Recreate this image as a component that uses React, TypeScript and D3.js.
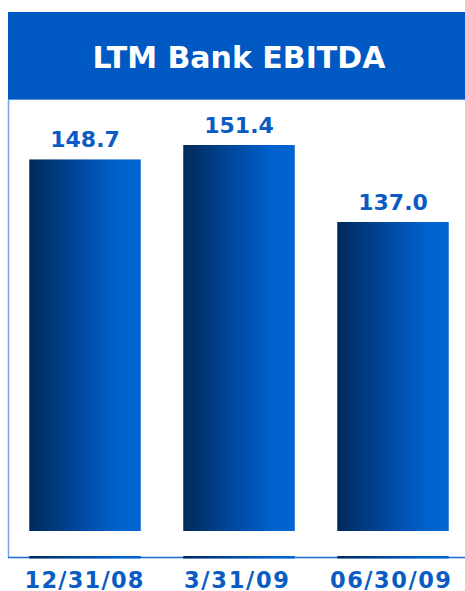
import React from "react";
import * as d3 from "d3";

const categories = ["12/31/08", "3/31/09", "06/30/09"];
const values = [148.7, 151.4, 137.0];
const valueLabels = ["148.7", "151.4", "137.0"];
const title = "LTM Bank EBITDA";

export default function App() {
  const W = 465, H = 591;
  const x = d3.scaleBand<string>().domain(categories).range([8, 470]).paddingInner(0.276).paddingOuter(0.138);
  const y = d3.scaleLinear().domain([79.2, 151.4]).range([531, 145]);
  const font = "'DejaVu Sans', Verdana, sans-serif";
  const blue = "#0a5cc4";
  const xLabelCenters = [84, 236.5, 390.5];
  const xLabelWidths = [119, 105, 121];
  return (
    <svg width={W} height={H} style={{ position: "absolute", left: 0, top: 0 }}>
      <defs>
        <linearGradient id="barGrad" x1="0" x2="1" y1="0" y2="0">
          <stop offset="0" stopColor="#002a58" />
          <stop offset="0.45" stopColor="#0048a0" />
          <stop offset="0.8" stopColor="#0062cc" />
          <stop offset="1" stopColor="#0064d2" />
        </linearGradient>
      </defs>
      <rect x={0} y={0} width={W} height={H} fill="#fff" />
      <rect x={8} y={12} width={W - 8} height={87} fill="#0058c3" />
      <line x1={8.5} x2={8.5} y1={99} y2={558} stroke="#7aa6e0" strokeWidth={1.5} />
      <line x1={8} x2={W} y1={557.5} y2={557.5} stroke="#1a6ad0" strokeWidth={1.5} />
      <line x1={8} x2={W} y1={99.5} y2={99.5} stroke="#5b92dc" strokeWidth={1} />
      <text x={239} y={67.5} textAnchor="middle" fill="#fff" fontFamily={font} fontWeight="bold" fontSize={30}>{title}</text>
      {categories.map((c, i) => (
        <g key={c}>
          <rect x={x(c)} y={y(values[i])} width={x.bandwidth()} height={531 - y(values[i])} fill="url(#barGrad)" />
          <rect x={x(c)} y={556} width={x.bandwidth()} height={2.5} fill="url(#barGrad)" />
          <text x={(x(c) ?? 0) + x.bandwidth() / 2} y={y(values[i]) - 12} textAnchor="middle" fill={blue} fontFamily={font} fontWeight="bold" fontSize={22}>{valueLabels[i]}</text>
          <text x={xLabelCenters[i]} y={587.5} textAnchor="middle" fill={blue} fontFamily={font} fontWeight="bold" fontSize={22.5} textLength={xLabelWidths[i]} lengthAdjust="spacing">{c}</text>
        </g>
      ))}
    </svg>
  );
}
